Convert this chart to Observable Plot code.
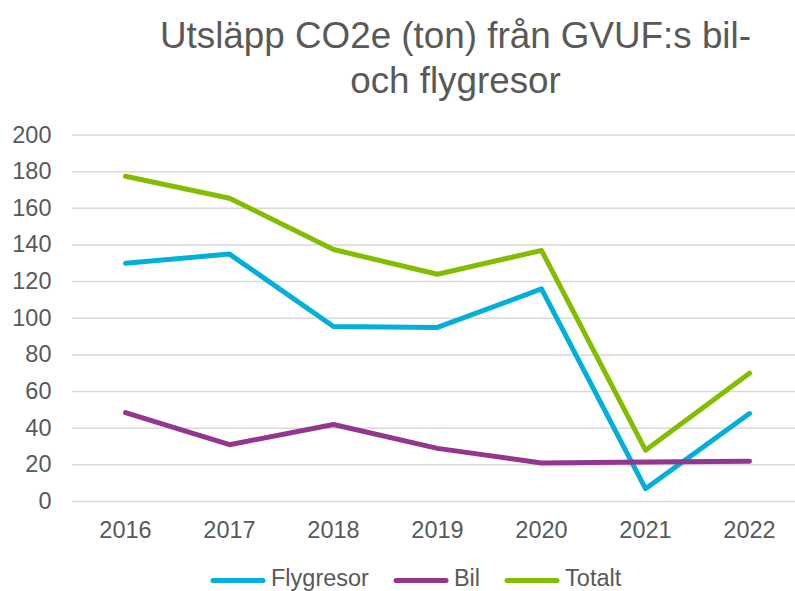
<!DOCTYPE html>
<html><head><meta charset="utf-8">
<script src="https://cdn.jsdelivr.net/npm/d3@7"></script>
<script src="https://cdn.jsdelivr.net/npm/@observablehq/plot@0.6"></script>
<style>
html,body{margin:0;padding:0;background:#fff;}
#wrap{width:795px;height:591px;overflow:hidden;position:relative;font-family:"Liberation Sans",Arial,sans-serif;color:#595959;}
#title{height:110px;box-sizing:border-box;padding-top:13px;padding-left:116px;text-align:center;font-size:36.8px;line-height:45px;white-space:nowrap;}
#chart svg{display:block;}
#legend{height:41px;box-sizing:border-box;padding-top:15px;padding-left:210px;display:flex;align-items:flex-start;font-size:23.5px;line-height:27px;white-space:nowrap;}
.item{display:flex;align-items:flex-start;margin-right:24px;}
.item svg{display:block;margin-right:5px;}
</style>
</head><body>
<div id="wrap">
  <div id="title">Utsläpp CO2e (ton) från GVUF:s bil-<br>och flygresor</div>
  <div id="chart"></div>
  <div id="legend"></div>
</div>
<script>
const years = ["2016", "2017", "2018", "2019", "2020", "2021", "2022"];
const flygresor = [130, 135, 95.5, 95, 116, 7, 48];
const bil = [48.5, 31, 42, 29, 21, 21.5, 22];
const totalt = [177.5, 165.5, 137.5, 124, 137, 28, 70];
const seriesNames = ["Flygresor", "Bil", "Totalt"];
const seriesColors = ["#00B0DA", "#92368F", "#84BD00"];
const yTicks = [0, 20, 40, 60, 80, 100, 120, 140, 160, 180, 200];

const seriesValues = [flygresor, bil, totalt];
const rows = [];
seriesNames.forEach((name, s) => {
  years.forEach((yr, i) => rows.push({series: name, year: yr, value: seriesValues[s][i]}));
});

const plot = Plot.plot({
  width: 795,
  height: 440,
  marginTop: 24.5,
  marginBottom: 49,
  marginLeft: 72,
  marginRight: 0,
  style: {fontFamily: '"Liberation Sans", Arial, sans-serif', fontSize: "23.5px", color: "#595959", background: "#fff"},
  x: {type: "point", domain: years, range: [123, 750], padding: 0, label: null},
  y: {domain: [0, 200], label: null},
  color: {domain: seriesNames, range: seriesColors},
  marks: [
    Plot.ruleY(yTicks, {stroke: "#d9d9d9", strokeWidth: 1.5}),
    Plot.axisY({ticks: yTicks, tickSize: 0, tickPadding: 21, label: null, fontSize: 23.5}),
    Plot.axisX({tickSize: 0, tickPadding: 20, label: null, fontSize: 23.5}),
    Plot.lineY(rows, {x: "year", y: "value", z: "series", stroke: "series", strokeWidth: 5, strokeLinecap: "round", strokeLinejoin: "round"})
  ]
});
document.getElementById("chart").appendChild(plot);

const legend = document.getElementById("legend");
seriesNames.forEach((name, i) => {
  const item = document.createElement("div");
  item.className = "item";
  item.innerHTML = `<svg width="56" height="27"><line x1="3" x2="53" y1="15.4" y2="15.4" stroke="${seriesColors[i]}" stroke-width="5" stroke-linecap="round"/></svg><span>${name}</span>`;
  legend.appendChild(item);
});
</script>
</body></html>
